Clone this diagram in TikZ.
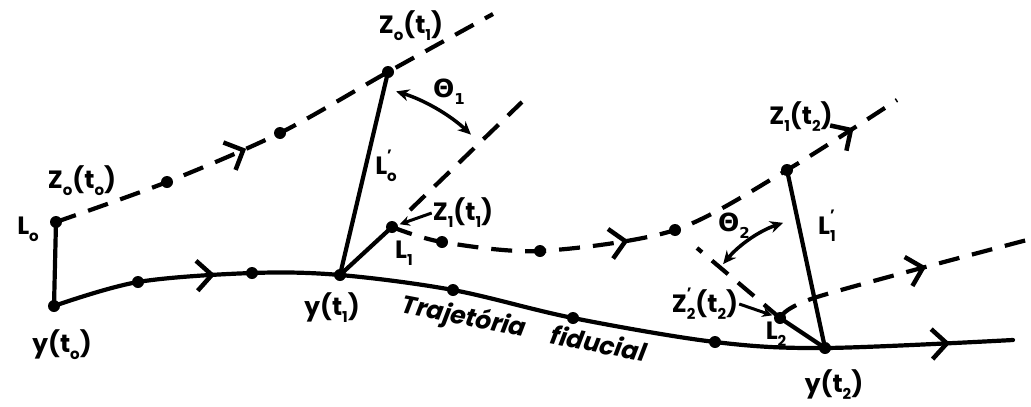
\documentclass[tikz,border=0pt]{standalone}
\usepackage{fontspec}
\setmainfont{Poppins}
\newfontfamily\grk{DejaVu Sans}
\usetikzlibrary{arrows.meta,decorations.markings}
\newcommand\sbs[1]{\raisebox{-0.5ex}{\fontsize{15}{15}\selectfont #1}}
\newcommand\sbp[1]{\makebox[0pt][l]{\raisebox{1.0ex}{\fontsize{15}{15}\selectfont '}}\sbs{#1}}
\tikzset{
  dot/.style={circle,fill=black,inner sep=0pt,minimum size=12pt},
  lab/.style={font=\fontsize{25}{27}\selectfont\bfseries,inner sep=1pt},
  trajlab/.style={font=\fontsize{25}{27}\selectfont\bfseries\itshape,inner sep=0pt,rotate=-11},
  solidline/.style={line width=4.2pt,line cap=round},
  dashline/.style={line width=4.2pt,dash pattern=on 21pt off 13pt},
  chev/.style={postaction={decorate,decoration={markings,mark=at position #1 with {\arrow[line width=4.5pt,solid]{Straight Barb[length=15pt,width=30pt]}}}}},
  angarrow/.style={line width=3.5pt,{Stealth[length=13pt,width=12pt]}-{Stealth[length=13pt,width=12pt]}},
  leader/.style={line width=3pt,-{Stealth[length=10pt,width=10pt]},shorten >=2pt}
}
\begin{document}
\begin{tikzpicture}[x=1pt,y=-1pt]
\useasboundingbox (0,0) rectangle (1031,407);
% fiducial points
\node[dot] (y0) at (54,306) {};
\node[dot] (f1) at (138,282) {};
\node[dot] (f2) at (252,273) {};
\node[dot] (y1) at (340,275) {};
\node[dot] (f3) at (453,290) {};
\node[dot] (f4) at (573,318) {};
\node[dot] (f5) at (715,342) {};
\node[dot] (y2) at (825,348) {};
\coordinate (fend) at (1013,340);
% Z0 path
\node[dot] (z00) at (56,222) {};
\node[dot] (a1) at (167,182) {};
\node[dot] (a2) at (280,133) {};
\node[dot] (z01) at (388,72) {};
\coordinate (aend) at (493,14);
% Z1 path
\node[dot] (z11) at (392,227) {};
\node[dot] (b1) at (442,242) {};
\node[dot] (b2) at (540,251) {};
\node[dot] (b3) at (675,230) {};
\node[dot] (z12) at (787,170) {};
\coordinate (bend) at (897,100);
% Z2 path
\node[dot] (z22) at (780,318) {};
\coordinate (c1) at (817,297);
\coordinate (cend) at (1027,240);
% extension lines
\coordinate (e1) at (522,102);
\coordinate (e2) at (697,248);

% curves
\draw[solidline,chev=0.17,chev=0.935] plot[smooth,tension=0.55] coordinates {(y0.center) (f1.center) (f2.center) (y1.center) (f3.center) (f4.center) (f5.center) (y2.center) (fend)};
\draw[dashline,chev=0.42] plot[smooth,tension=0.5] coordinates {(z00.center) (a1.center) (a2.center) (z01.center) (aend)};
\draw[dashline,chev=0.44,chev=0.905] plot[smooth,tension=0.5] coordinates {(z11.center) (b1.center) (b2.center) (b3.center) (z12.center) (bend)};
\draw[dashline,chev=0.6] plot[smooth,tension=0.5] coordinates {(z22.center) (c1) (cend)};
\draw[dashline] (z11.center) ++(18,-17) -- (e1);
\draw[dashline] (z22.center) -- (e2);

% solid segments
\draw[solidline] (y0.center) -- (z00.center);
\draw[solidline] (y1.center) -- (z01.center);
\draw[solidline] (y1.center) -- (z11.center);
\draw[solidline] (y2.center) -- (z12.center);
\draw[solidline] (y2.center) -- (z22.center);

% angle arrows
\draw[angarrow] ([shift={(287:192)}]y1.center) arc[start angle=287,end angle=313,radius=192];
\draw[angarrow] ([shift={(251.5:132)}]y2.center) arc[start angle=251.5,end angle=219.5,radius=132];

% labels
\node[lab] (ly0) at (62,345) {y(t\sbs{o})};
\node[lab] (lL0) at (28,229) {L\sbs{o}};
\node[lab] (lz00) at (82,181) {Z\sbs{o}(t\sbs{o})};
\node[lab] (lz01) at (411,26) {Z\sbs{o}(t\sbs{1})};
\node[lab] (lth1) at (449,92) {\grk\bfseries Θ\sbs{1}};
\node[lab] (lL0p) at (386,166) {L\sbp{o}};
\node[lab] (lz11) at (463,213) {Z\sbs{1}(t\sbs{1})};
\node[lab] (lL1) at (404,253) {L\sbs{1}};
\node[lab] (ly1) at (332,308) {y(t\sbs{1})};
\node[trajlab] (ltraj1) at (464,318) {Trajetória};
\node[trajlab] (ltraj2) at (599,343) {fiducial};
\node[lab] (lz12) at (801,117) {Z\sbs{1}(t\sbs{2})};
\node[lab] (lth2) at (734,226) {\grk\bfseries Θ\sbs{2}};
\node[lab] (lL1p) at (827,226) {L\sbp{1}};
\node[lab] (lz22) at (705,304) {Z\sbp{2}(t\sbs{2})};
\node[lab] (lL2) at (776,334) {L\sbs{2}};
\node[lab] (ly2) at (834,385) {y(t\sbs{2})};

% leaders
\draw[leader] (lz11.west) -- (z11);
\draw[leader] (lz22.east) -- (z22);
\end{tikzpicture}
\end{document}
